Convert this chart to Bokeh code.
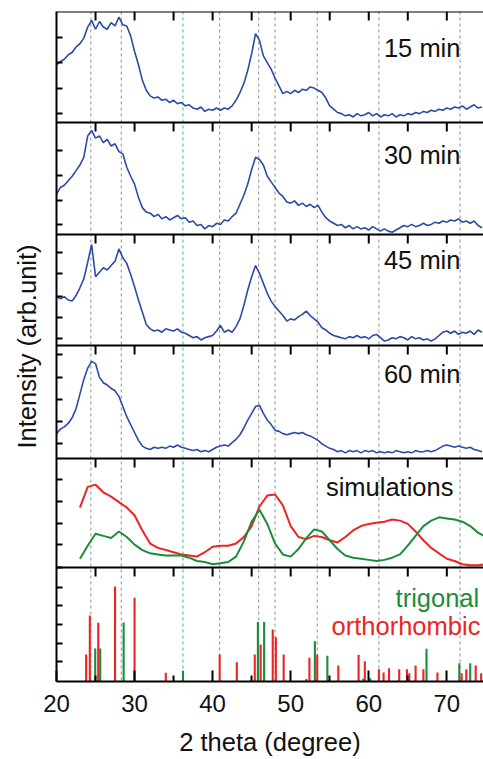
import numpy as np
from bokeh.plotting import figure
from bokeh.models import Range1d, FixedTicker, Span
from bokeh.core.properties import value
from bokeh.embed import file_html
from bokeh.resources import INLINE

# ---------------- data ----------------
two_theta = np.arange(20.0, 75.0, 0.5)          # 20.0 ... 74.5

int_15min = [52, 55, 57, 61, 63, 68, 71, 76, 86, 92,
             84, 91, 86, 84, 90, 87, 95, 88, 87, 78,
             64, 52, 38, 29, 24, 22, 23, 20, 21, 18,
             20, 17, 18, 15, 16, 13, 12, 14, 10, 12,
             11, 13, 11, 13, 12, 15, 20, 27, 35, 47,
             62, 80, 74, 60, 54, 48, 40, 33, 26, 28,
             26, 29, 27, 30, 29, 32, 31, 29, 27, 22,
             15, 12, 9, 8, 6, 7, 5, 8, 6, 7,
             9, 6, 8, 5, 7, 6, 8, 5, 7, 6,
             8, 7, 9, 8, 10, 9, 11, 10, 12, 11,
             13, 12, 14, 13, 15, 12, 14, 16, 13, 14]

int_30min = [36, 42, 44, 48, 52, 57, 62, 69, 88, 93,
             86, 88, 82, 85, 79, 81, 74, 72, 60, 52,
             45, 33, 24, 20, 19, 16, 18, 14, 16, 13,
             15, 17, 14, 15, 11, 12, 8, 9, 5, 8,
             7, 10, 9, 13, 12, 16, 19, 27, 35, 45,
             58, 69, 67, 62, 52, 47, 42, 37, 34, 29,
             28, 30, 26, 28, 25, 27, 24, 26, 20, 15,
             12, 10, 8, 9, 6, 8, 5, 7, 5, 6,
             4, 7, 5, 3, 5, 3, 2, 4, 6, 8,
             7, 9, 7, 8, 10, 8, 9, 11, 10, 12,
             11, 13, 12, 14, 11, 12, 10, 12, 8, 6]

int_45min = [44, 42, 44, 41, 40, 45, 52, 60, 75, 91,
             62, 66, 70, 68, 72, 76, 87, 79, 74, 64,
             53, 41, 30, 19, 15, 13, 14, 12, 15, 14,
             13, 15, 12, 11, 9, 7, 8, 5, 7, 8,
             9, 13, 18, 12, 14, 12, 17, 24, 36, 50,
             62, 72, 65, 56, 47, 40, 35, 31, 27, 22,
             24, 23, 26, 28, 31, 27, 24, 21, 16, 14,
             11, 9, 8, 7, 6, 8, 7, 9, 7, 8,
             6, 9, 10, 7, 4, 5, 7, 6, 8, 7,
             5, 8, 6, 7, 5, 6, 4, 6, 9, 12,
             13, 11, 13, 10, 12, 11, 13, 10, 14, 12]

int_60min = [22, 26, 28, 31, 36, 44, 57, 70, 80, 86,
             84, 72, 67, 65, 62, 60, 55, 46, 37, 30,
             23, 16, 11, 9, 8, 10, 9, 10, 9, 11,
             10, 12, 10, 9, 8, 7, 8, 6, 7, 6,
             8, 10, 11, 12, 11, 14, 17, 21, 27, 34,
             40, 46, 47, 40, 34, 30, 25, 24, 22, 21,
             22, 23, 22, 23, 21, 20, 18, 16, 13, 11,
             9, 8, 6, 7, 5, 7, 6, 7, 5, 7,
             6, 7, 5, 6, 5, 6, 5, 7, 6, 5,
             6, 5, 7, 6, 6, 7, 6, 7, 9, 11,
             12, 11, 10, 11, 10, 9, 10, 8, 7, 6]

sim_theta = np.arange(23.0, 76.0, 1.0)           # 23 ... 75
sim_orthorhombic = [55, 74, 76, 69, 65, 60, 55, 48, 34, 22,
                    18, 16, 14, 12, 11, 10, 14, 19, 20, 20,
                    22, 28, 38, 56, 66, 67, 57, 38, 28, 26,
                    29, 28, 25, 23, 28, 34, 38, 40, 41, 42,
                    44, 43, 40, 33, 25, 18, 13, 8, 6, 3,
                    2, 2, 3]
sim_trigonal = [8, 20, 31, 29, 27, 33, 28, 21, 16, 13,
                12, 11, 11, 11, 9, 6, 5, 3, 4, 5,
                10, 24, 42, 53, 40, 22, 12, 10, 17, 27,
                35, 33, 25, 17, 11, 9, 8, 7, 6, 7,
                9, 12, 20, 29, 38, 43, 46, 45, 44, 42,
                38, 32, 28]

ortho_pos = [23.8, 24.27, 25.35, 27.5, 30.0, 34.0, 40.9, 43.1, 45.4, 46.15,
             47.7, 48.1, 49.1, 52.4, 53.4, 56.1, 58.7, 59.5, 61.3, 61.9,
             62.6, 63.9, 64.9, 65.2, 66.0, 67.0, 68.8, 71.9, 72.5, 73.7, 74.4]
ortho_int = [23.7, 57.9, 51.5, 83.3, 73.4, 7.6, 23.7, 16.9, 23.7, 32.5,
             45.6, 38.9, 23.7, 20.8, 23.4, 14, 23.4, 17.8, 10.8, 7.9,
             11.7, 10.8, 10.8, 7.3, 14, 10.8, 7.9, 7.3, 10.8, 14, 7.3]
trig_pos = [24.96, 25.6, 28.6, 36.2, 45.8, 46.6, 52.0, 53.1, 54.7, 59.3,
            60.2, 67.4, 71.6, 73.0]
trig_int = [28.9, 28.9, 51.8, 9.4, 52.3, 52.3, 2.3, 35.4, 22.5, 2.5,
            2.8, 28.7, 16.1, 16.1]

gray_refs = [24.4, 28.3, 40.9, 45.9, 48.0, 53.4, 61.3, 71.7]
green_refs = [36.2]

time_labels = ["15 min", "30 min", "45 min", "60 min"]
x_tick_labels = [20, 30, 40, 50, 60, 70]
x_minor = [25, 35, 45, 55, 65, 75]
top_ticks = [25, 30, 35, 40, 45, 50, 55, 60, 65, 70]
panel_ticks = [[7.8, 30.9, 54.0, 77.0],
               [8.7, 30.6, 52.9, 74.8],
               [6.0, 25.5, 44.4, 64.6, 84.1],
               [13, 32.7, 52.2, 71.9, 92],
               [0.3, 20.8, 40.6, 60.8, 80.7],
               [17.3, 33.6, 50, 66.4, 82.7]]

# ---------------- layout / style ----------------
PANEL_BOTTOM = [559, 447, 336, 223, 114, 0]
PANEL_H = [111, 112, 111, 113, 109, 114]
LABEL_FRAC = [0.668, 0.713, 0.771, 0.751]
BLUE = "#2b4ba6"
RED = "#ee2324"
GREEN = "#1b8c3a"
FONT = "Liberation Sans"
TXT = "#111111"


def to_y(vals, k):
    return PANEL_BOTTOM[k] + np.asarray(vals, dtype=float) * PANEL_H[k] / 100.0


p = figure(frame_width=427, frame_height=670,
           x_range=Range1d(20, 74.7), y_range=Range1d(0, 670),
           output_backend="svg", toolbar_location=None,
           min_border_left=56, min_border_right=0, min_border_top=11,
           min_border_bottom=10)
p.outline_line_color = None
p.xgrid.visible = False
p.ygrid.visible = False
p.background_fill_color = "white"

# reference lines
for xr in gray_refs:
    p.add_layout(Span(location=xr, dimension="height", line_color="#8f8f8f",
                      line_dash="3 3", line_width=1, level="underlay"))
for xr in green_refs:
    p.add_layout(Span(location=xr, dimension="height", line_color="#3dbb7a",
                      line_dash="3 3", line_width=1, level="underlay"))

# experimental curves
for k, vals in enumerate([int_15min, int_30min, int_45min, int_60min]):
    p.line(two_theta, to_y(vals, k), line_color=BLUE, line_width=1.6)
    p.text(x=[71.75], y=[PANEL_BOTTOM[k] + LABEL_FRAC[k] * PANEL_H[k]],
           text=[time_labels[k]], text_font=value(FONT), text_font_size="25.5px",
           text_align="right", text_baseline="middle", text_color=TXT)

# simulations
p.line(sim_theta, to_y(sim_orthorhombic, 4), line_color=RED, line_width=2)
p.line(sim_theta, to_y(sim_trigonal, 4), line_color=GREEN, line_width=2)
p.text(x=[70.85], y=[PANEL_BOTTOM[4] + 0.743 * PANEL_H[4]], text=["simulations"],
       text_font=value(FONT), text_font_size="25.5px", text_align="right",
       text_baseline="middle", text_color=TXT)

# reference sticks
p.vbar(x=ortho_pos, top=to_y(ortho_int, 5), bottom=PANEL_BOTTOM[5], width=0.27,
       fill_color=RED, line_color=None)
p.vbar(x=trig_pos, top=to_y(trig_int, 5), bottom=PANEL_BOTTOM[5], width=0.27,
       fill_color=GREEN, line_color=None)
p.text(x=[74.15], y=[PANEL_BOTTOM[5] + 0.73 * PANEL_H[5]], text=["trigonal"],
       text_font=value(FONT), text_font_size="25.5px", text_align="right",
       text_baseline="middle", text_color=GREEN)
p.text(x=[74.3], y=[PANEL_BOTTOM[5] + 0.488 * PANEL_H[5]], text=["orthorhombic"],
       text_font=value(FONT), text_font_size="25.5px", text_align="right",
       text_baseline="middle", text_color=RED)

# panel borders and inward top ticks
x0, y0, y1 = [], [], []
for k in range(6):
    top = PANEL_BOTTOM[k] + PANEL_H[k]
    p.add_layout(Span(location=top, dimension="width", line_color="black", line_width=2))
    for t in top_ticks:
        x0.append(t)
        y0.append(top)
        y1.append(top - 9)
p.segment(x0=x0, y0=y0, x1=x0, y1=y1, line_color="black", line_width=2)

# left axis: inward ticks only, no tick labels
all_left = []
for k, tl in enumerate(panel_ticks):
    all_left.extend([float(v) for v in to_y(tl, k)])
p.yaxis.ticker = FixedTicker(ticks=all_left)
p.yaxis.major_label_overrides = {v: "" for v in all_left}
p.yaxis.major_tick_in = 6
p.yaxis.major_tick_out = 0
p.yaxis.minor_tick_in = 0
p.yaxis.minor_tick_out = 0
p.yaxis.major_label_standoff = 0
p.yaxis.axis_line_width = 2
p.yaxis.major_tick_line_width = 2
p.yaxis.axis_label = "Intensity (arb.unit)"
p.yaxis.axis_label_text_font = FONT
p.yaxis.axis_label_text_font_size = "25.5px"
p.yaxis.axis_label_text_font_style = "normal"
p.yaxis.axis_label_text_color = TXT
p.yaxis.axis_label_standoff = 16

# bottom axis
p.xaxis.ticker = FixedTicker(ticks=x_tick_labels, minor_ticks=x_minor)
p.xaxis.major_tick_in = 11
p.xaxis.major_tick_out = 0
p.xaxis.minor_tick_in = 6
p.xaxis.minor_tick_out = 0
p.xaxis.major_tick_line_width = 2
p.xaxis.minor_tick_line_width = 2
p.xaxis.axis_line_width = 2
p.xaxis.major_label_text_font = FONT
p.xaxis.major_label_text_font_size = "24px"
p.xaxis.major_label_text_color = TXT
p.xaxis.major_label_standoff = 13
p.xaxis.axis_label = "2 theta (degree)"
p.xaxis.axis_label_text_font = FONT
p.xaxis.axis_label_text_font_size = "25.5px"
p.xaxis.axis_label_text_font_style = "normal"
p.xaxis.axis_label_text_color = TXT
p.xaxis.axis_label_standoff = 13

open("out.html", "w").write(file_html(p, INLINE))
